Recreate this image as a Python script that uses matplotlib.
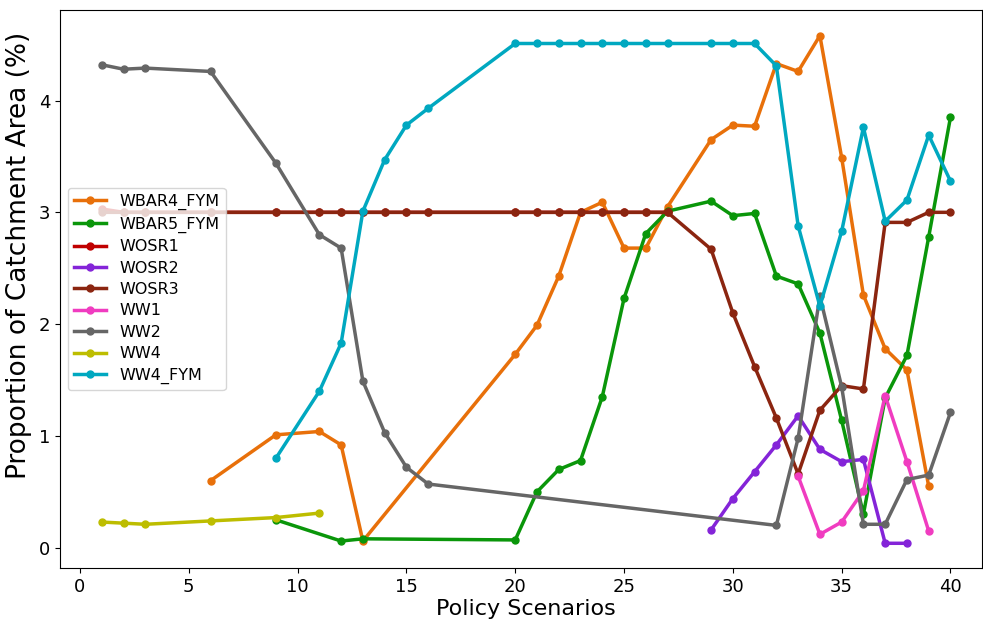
import matplotlib
matplotlib.use("Agg")
import matplotlib.pyplot as plt

wbar4_x = [6, 9, 11, 12, 13, 20, 21, 22, 23, 24, 25, 26, 27, 29, 30, 31, 32, 33, 34, 35, 36, 37, 38, 39]
wbar4_y = [0.60, 1.01, 1.04, 0.92, 0.06, 1.73, 1.99, 2.43, 3.00, 3.09, 2.68, 2.68, 3.05, 3.65, 3.78, 3.77, 4.33, 4.26, 4.58, 3.49, 2.26, 1.78, 1.59, 0.55]

wbar5_x = [9, 12, 13, 20, 21, 22, 23, 24, 25, 26, 27, 29, 30, 31, 32, 33, 34, 35, 36, 37, 38, 39, 40]
wbar5_y = [0.25, 0.06, 0.08, 0.07, 0.50, 0.70, 0.78, 1.35, 2.23, 2.81, 3.01, 3.10, 2.97, 2.99, 2.43, 2.36, 1.92, 1.14, 0.30, 1.34, 1.72, 2.78, 3.85]

wosr1_x = [1, 2, 3, 6, 9, 11, 12, 13, 14, 15, 16, 20, 21, 22, 23, 24, 25, 26, 27]
wosr1_y = [3.03, 3.0, 3.0, 3.0, 3.0, 3.0, 3.0, 3.0, 3.0, 3.0, 3.0, 3.0, 3.0, 3.0, 3.0, 3.0, 3.0, 3.0, 3.0]

wosr2_x = [29, 30, 31, 32, 33, 34, 35, 36, 37, 38]
wosr2_y = [0.16, 0.44, 0.68, 0.92, 1.18, 0.88, 0.77, 0.79, 0.04, 0.04]

wosr3_x = [1, 2, 3, 6, 9, 11, 12, 13, 14, 15, 16, 20, 21, 22, 23, 24, 25, 26, 27, 29, 30, 31, 32, 33, 34, 35, 36, 37, 38, 39, 40]
wosr3_y = [3.0, 3.0, 3.0, 3.0, 3.0, 3.0, 3.0, 3.0, 3.0, 3.0, 3.0, 3.0, 3.0, 3.0, 3.0, 3.0, 3.0, 3.0, 3.0, 2.67, 2.10, 1.62, 1.16, 0.66, 1.23, 1.45, 1.42, 2.91, 2.91, 3.0, 3.0]

ww1_x = [33, 34, 35, 36, 37, 38, 39]
ww1_y = [0.64, 0.12, 0.23, 0.51, 1.36, 0.77, 0.15]

ww2_x = [1, 2, 3, 6, 9, 11, 12, 13, 14, 15, 16, 32, 33, 34, 35, 36, 37, 38, 39, 40]
ww2_y = [4.32, 4.28, 4.29, 4.26, 3.44, 2.80, 2.68, 1.49, 1.03, 0.72, 0.57, 0.20, 0.98, 2.25, 1.44, 0.21, 0.21, 0.61, 0.65, 1.21]

ww4_x = [1, 2, 3, 6, 9, 11]
ww4_y = [0.23, 0.22, 0.21, 0.24, 0.27, 0.31]

ww4fym_x = [9, 11, 12, 13, 14, 15, 16, 20, 21, 22, 23, 24, 25, 26, 27, 29, 30, 31, 32, 33, 34, 35, 36, 37, 38, 39, 40]
ww4fym_y = [0.80, 1.40, 1.83, 3.01, 3.47, 3.78, 3.93, 4.51, 4.51, 4.51, 4.51, 4.51, 4.51, 4.51, 4.51, 4.51, 4.51, 4.51, 4.31, 2.88, 2.16, 2.83, 3.76, 2.92, 3.11, 3.69, 3.28]

series = [
    ("WBAR4_FYM", wbar4_x, wbar4_y, "#E8700A"),
    ("WBAR5_FYM", wbar5_x, wbar5_y, "#0A960A"),
    ("WOSR1", wosr1_x, wosr1_y, "#C00000"),
    ("WOSR2", wosr2_x, wosr2_y, "#8424D8"),
    ("WOSR3", wosr3_x, wosr3_y, "#8B2510"),
    ("WW1", ww1_x, ww1_y, "#F03CC0"),
    ("WW2", ww2_x, ww2_y, "#666666"),
    ("WW4", ww4_x, ww4_y, "#BDBD00"),
    ("WW4_FYM", ww4fym_x, ww4fym_y, "#00A8C0"),
]

fig = plt.figure(figsize=(9.83, 6.22), dpi=100)
ax = fig.add_axes([0.061, 0.087, 0.938, 0.897])
for name, xs, ys, c in series:
    ax.plot(xs, ys, marker="o", markersize=5, linewidth=2.5, color=c, label=name)

ax.set_xlim(-0.92, 41.45)
ax.set_ylim(-0.18, 4.81)
ax.set_xticks([0, 5, 10, 15, 20, 25, 30, 35, 40])
ax.set_yticks([0, 1, 2, 3, 4])
ax.tick_params(labelsize=13)
ax.set_xlabel("Policy Scenarios", fontsize=16)
ax.set_ylabel("Proportion of Catchment Area (%)", fontsize=19)
ax.xaxis.set_label_coords(0.505, -0.055)
ax.yaxis.set_label_coords(-0.03, 0.56)
ax.legend(loc="center left", fontsize=11.5, framealpha=0.8, labelspacing=0.4)

fig.savefig("out.png", dpi=100)
